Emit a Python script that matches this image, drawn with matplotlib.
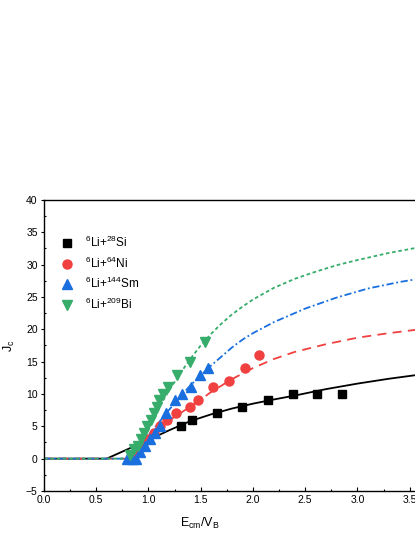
# Critical angular momentum J_c vs E_cm/V_B for 6Li + targets
import matplotlib
matplotlib.use('Agg')
import matplotlib.pyplot as plt
import numpy as np

plt.rcParams['font.family'] = ['Liberation Sans', 'DejaVu Sans']
plt.rcParams['mathtext.default'] = 'regular'

si_x = [1.31, 1.42, 1.66, 1.90, 2.14, 2.38, 2.61, 2.85]
si_y = [5, 6, 7, 8, 9, 10, 10, 10]

ni_x = [0.85, 0.90, 0.95, 1.00, 1.05, 1.11, 1.18, 1.26, 1.40, 1.47, 1.62, 1.77, 1.92, 2.06]
ni_y = [0.5, 1, 2.4, 3, 4, 5, 6, 7, 8, 9, 11, 12, 14, 16]

sm_x = [0.79, 0.84, 0.88, 0.92, 0.97, 1.01, 1.06, 1.11, 1.17, 1.25, 1.32, 1.41, 1.49, 1.57]
sm_y = [0, 0, 0, 1, 2, 3, 4, 5, 7, 9, 10, 11, 13, 14]

bi_x = [0.82, 0.86, 0.90, 0.93, 0.96, 0.99, 1.02, 1.05, 1.08, 1.10, 1.14, 1.19, 1.27, 1.40, 1.54]
bi_y = [0.5, 1.5, 2, 3, 4, 5, 6, 7, 8, 9, 10, 11, 13, 15, 18]

# Calculated curves
si_cx = [0, 0.6, 0.8, 1.0, 1.2, 1.4, 1.6, 1.8, 2.0, 2.2, 2.4, 2.7, 3.0, 3.3, 3.6, 4.0]
si_cy = [0, 0, 1.45, 2.9, 4.4, 5.8, 6.85, 7.75, 8.5, 9.15, 9.75, 10.75, 11.6, 12.35, 13.0, 13.6]

ni_cx = [0, 0.8, 0.9, 1.0, 1.1, 1.2, 1.3, 1.4, 1.6, 1.8, 2.0, 2.2, 2.4, 2.7, 3.0, 3.3, 3.6, 4.0]
ni_cy = [0, 0, 1.3, 2.9, 4.5, 5.9, 7.0, 8.0, 10.3, 12.3, 14.0, 15.4, 16.5, 17.7, 18.7, 19.4, 20.0, 20.7]

sm_cx = [0, 0.8, 0.9, 1.0, 1.1, 1.2, 1.3, 1.4, 1.5, 1.6, 1.7, 1.8, 1.9, 2.0, 2.2, 2.5, 2.8, 3.1, 3.4, 3.7, 4.0]
sm_cy = [0, 0, 1.7, 3.6, 5.6, 7.6, 9.5, 11.3, 12.9, 14.4, 15.8, 17.2, 18.4, 19.4, 21.1, 23.2, 24.9, 26.3, 27.3, 28.1, 28.8]

bi_cx = [0, 0.8, 0.9, 1.0, 1.1, 1.2, 1.3, 1.4, 1.5, 1.6, 1.7, 1.8, 1.9, 2.0, 2.2, 2.4, 2.6, 2.8, 3.0, 3.3, 3.6, 4.0]
bi_cy = [0, 0, 2.3, 5.0, 7.9, 10.6, 13.1, 15.4, 17.5, 19.3, 20.9, 22.3, 23.5, 24.6, 26.4, 27.8, 28.9, 29.9, 30.7, 31.8, 32.7, 33.4]

labels = [r'$^{6}$Li+$^{28}$Si', r'$^{6}$Li+$^{64}$Ni',
          r'$^{6}$Li+$^{144}$Sm', r'$^{6}$Li+$^{209}$Bi']

black = '#000000'
red = '#F14040'
blue = '#1A6FDF'
green = '#37AD6B'

fig = plt.figure(figsize=(4.15, 5.37), dpi=100)
ax = fig.add_axes([0.106, 0.0857, 1.007, 0.542])

# curves
ax.plot(si_cx, si_cy, color=black, lw=1.3, zorder=2)
ax.plot(ni_cx, ni_cy, color=red, lw=1.3, dashes=(5, 3.5), zorder=2)
ax.plot(sm_cx, sm_cy, color=blue, lw=1.3, dashes=(4, 1.5, 1, 1.5), zorder=2)
ax.plot(bi_cx, bi_cy, color=green, lw=1.3, dashes=(2, 1.5), zorder=2)

# points
ax.plot(si_x, si_y, 's', color=black, ms=6, ls='none', label=labels[0], zorder=3)
ax.plot(ni_x, ni_y, 'o', color=red, ms=6.5, ls='none', label=labels[1], zorder=3)
ax.plot(sm_x, sm_y, '^', color=blue, ms=7.5, ls='none', label=labels[2], zorder=3)
ax.plot(bi_x, bi_y, 'v', color=green, ms=7.5, ls='none', label=labels[3], zorder=3)

ax.set_xlim(0, 4.0)
ax.set_ylim(-5, 40)
ax.set_xticks(np.arange(0, 4.01, 0.5))
ax.set_xticks(np.arange(0, 4.01, 0.25), minor=True)
ax.set_yticks(np.arange(-5, 40.1, 5))
ax.set_yticks(np.arange(-5, 40.1, 2.5), minor=True)
ax.xaxis.set_major_formatter(matplotlib.ticker.FormatStrFormatter('%.1f'))

for s in ax.spines.values():
    s.set_linewidth(1.0)

ax.tick_params(axis='x', which='major', direction='in', length=3, width=0.8,
               labelsize=7.5, pad=3)
ax.tick_params(axis='x', which='minor', direction='in', length=1.6, width=0.8)
ax.tick_params(axis='y', which='major', direction='out', length=2.5, width=0.8,
               labelsize=7.5, pad=2)
ax.tick_params(axis='y', which='minor', direction='in', length=1.6, width=0.8)

ax.set_xlabel(r'E$_{cm}$/V$_B$', fontsize=9)
ax.set_ylabel(r'J$_c$', fontsize=9)
ax.yaxis.set_label_coords(-0.064, 0.5)
ax.xaxis.set_label_coords(0.372, -0.085)

ax.legend(loc='upper left', bbox_to_anchor=(0.03, 0.895), frameon=False,
          fontsize=8.5, handletextpad=1.0, labelspacing=0.45,
          handlelength=1.0, borderaxespad=0)

fig.savefig('out.png', dpi=100)
